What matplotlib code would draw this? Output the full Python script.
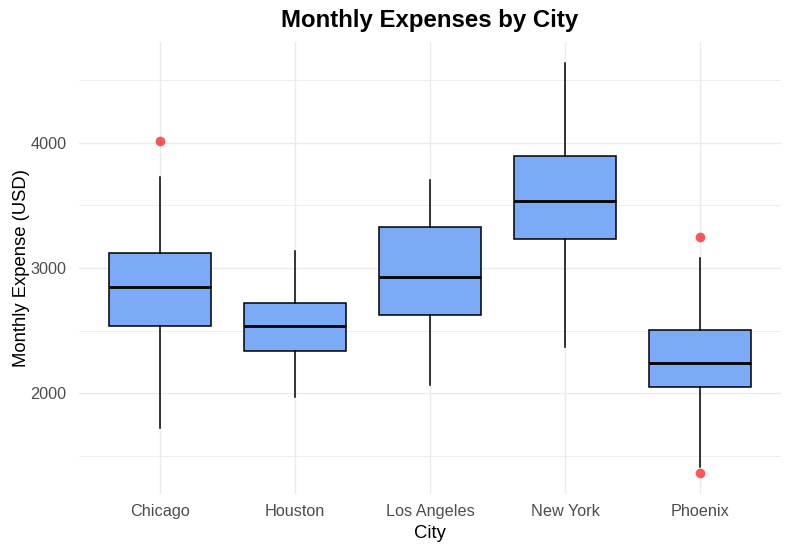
import matplotlib
matplotlib.use("Agg")
import matplotlib.pyplot as plt

cities = ["Chicago", "Houston", "Los Angeles", "New York", "Phoenix"]
whisker_low = [1725, 1973, 2069, 2373, 1413]
q1 = [2538, 2336, 2624, 3232, 2048]
median = [2845, 2538, 2930, 3538, 2242]
q3 = [3120, 2720, 3325, 3896, 2504]
whisker_high = [3730, 3138, 3706, 4640, 3080]
outliers = [[4016], [], [], [], [3248, 1360]]

stats = []
for i, name in enumerate(cities):
    stats.append({
        "label": name, "whislo": whisker_low[i], "q1": q1[i], "med": median[i],
        "q3": q3[i], "whishi": whisker_high[i], "fliers": outliers[i],
    })

plt.rcParams["font.family"] = ["Liberation Sans", "DejaVu Sans"]

fig = plt.figure(figsize=(7.92, 5.53), dpi=100)
ax = fig.add_axes([79 / 792, 1 - 494 / 553, 702 / 792, 452 / 553])

positions = list(range(1, len(cities) + 1))
ax.bxp(
    stats, positions=positions, widths=0.75, patch_artist=True, showcaps=False,
    boxprops=dict(facecolor="#7BAAF7", edgecolor="black", linewidth=1.1),
    medianprops=dict(color="black", linewidth=2),
    whiskerprops=dict(color="black", linewidth=1.1),
    flierprops=dict(marker="o", markerfacecolor="#FF4444", markeredgecolor="none",
                    markersize=7, alpha=0.9),
    zorder=3,
)

ax.set_xlim(0.4, 5.6)
ax.set_ylim(1196, 4804)
ax.set_yticks([2000, 3000, 4000])
ax.set_yticks([1500, 2500, 3500, 4500], minor=True)
ax.set_xticks(positions)
ax.set_xticklabels(cities)

ax.grid(True, which="major", color="#EBEBEB", linewidth=1.0, zorder=0)
ax.grid(True, which="minor", axis="y", color="#EBEBEB", linewidth=0.6, zorder=0)
ax.set_axisbelow(True)
for spine in ax.spines.values():
    spine.set_visible(False)
ax.tick_params(which="both", length=0, labelsize=11.7, labelcolor="#4D4D4D")
ax.tick_params(axis="x", pad=7.5)
ax.tick_params(axis="y", pad=9)

ax.set_xlabel("City", fontsize=13.3, labelpad=4)
ax.set_ylabel("Monthly Expense (USD)", fontsize=13.3, labelpad=0)
ax.set_title("Monthly Expenses by City", fontsize=17.3, fontweight="bold", pad=11)

fig.savefig("out.png", dpi=100)
